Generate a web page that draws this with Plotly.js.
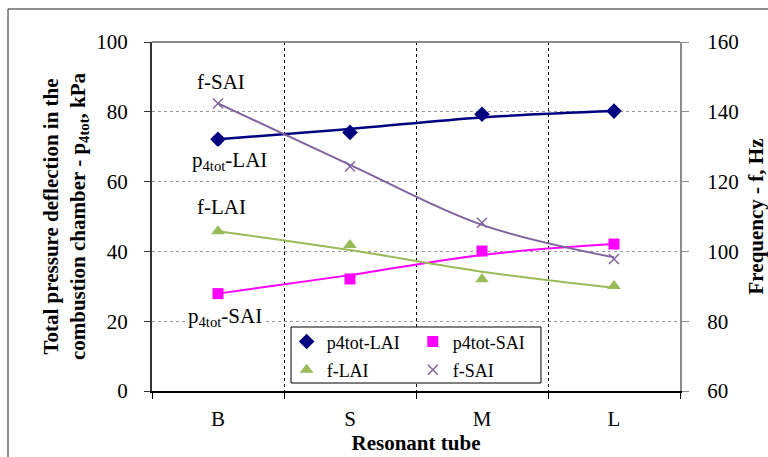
<!DOCTYPE html>
<html>
<head>
<meta charset="utf-8">
<script src="https://cdn.plot.ly/plotly-3.0.1.min.js"></script>
<style>
  html, body { margin: 0; padding: 0; background: #fff; }
  #chart { width: 768px; height: 457px; }
</style>
</head>
<body>
<div id="chart"></div>
<script>
// ---- data ----
var categories = ['B', 'S', 'M', 'L'];
var p4totLAI = [72.1, 74.1, 79.3, 80.2];      // kPa (left axis)
var p4totSAI = [27.9, 32.1, 40.1, 42.1];      // kPa (left axis)
var fLAI = [105.8, 101.8, 92.0, 90.1];        // Hz (right axis)
var fSAI = [142.4, 124.3, 108.2, 97.8];       // Hz (right axis)
// trend lines as drawn in the reference
var p4totLAITrend = [72.1, 75.1, 78.4, 80.2];
var p4totSAITrend = [27.9, 33.2, 39.0, 42.1];
var fLAITrend = [105.8, 100.4, 94.2, 89.6];
var fSAITrend = [142.4, 124.8, 107.6, 98.3];
var leftTicks = [0, 20, 40, 60, 80, 100];
var rightTicks = [60, 80, 100, 120, 140, 160];

var FONT = '"Times New Roman", "Liberation Serif", Times, serif';
var NAVY = '#000080', MAG = '#FF00FF', GREEN = '#9BBB59', PURPLE = '#8064A2';

var traces = [
  {x: categories, y: p4totLAITrend, mode: 'lines', line: {color: NAVY, width: 2.5, shape: 'spline'}, showlegend: false, hoverinfo: 'skip'},
  {x: categories, y: p4totSAITrend, mode: 'lines', line: {color: MAG, width: 2, shape: 'spline'}, showlegend: false, hoverinfo: 'skip'},
  {x: categories, y: fLAITrend, yaxis: 'y2', mode: 'lines', line: {color: GREEN, width: 2, shape: 'spline'}, showlegend: false, hoverinfo: 'skip'},
  {x: categories, y: fSAITrend, yaxis: 'y2', mode: 'lines', line: {color: PURPLE, width: 2, shape: 'spline'}, showlegend: false, hoverinfo: 'skip'},
  {x: categories, y: p4totLAI, name: 'p4tot-LAI', mode: 'markers', legend: 'legend',
   marker: {symbol: 'diamond', size: 12, color: NAVY}},
  {x: categories, y: p4totSAI, name: 'p4tot-SAI', mode: 'markers', legend: 'legend2',
   marker: {symbol: 'square', size: 11, color: MAG}},
  {x: categories, y: fLAI, name: 'f-LAI', yaxis: 'y2', mode: 'markers', legend: 'legend3',
   marker: {symbol: 'triangle-up', size: 12, color: GREEN}},
  {x: categories, y: fSAI, name: 'f-SAI', yaxis: 'y2', mode: 'markers', legend: 'legend4',
   marker: {symbol: 'x-thin', size: 10, color: PURPLE, line: {color: PURPLE, width: 1.5}}}
];

function leg(x, y) {
  return {x: x, y: y, xanchor: 'left', yanchor: 'middle', bgcolor: 'rgba(0,0,0,0)',
          borderwidth: 0, font: {family: FONT, size: 18, color: '#000'}};
}

var layout = {
  width: 768, height: 457,
  margin: {l: 152, r: 88, t: 42, b: 66, pad: 0},
  paper_bgcolor: '#fff', plot_bgcolor: '#fff',
  font: {family: FONT, color: '#000'},
  showlegend: true,
  legend: leg(0.255, 0.141),
  legend2: leg(0.494, 0.141),
  legend3: leg(0.255, 0.060),
  legend4: leg(0.494, 0.060),
  xaxis: {
    type: 'category', range: [-0.5, 3.5], tickson: 'boundaries',
    ticks: 'outside', ticklen: 6, tickcolor: '#000', tickwidth: 1,
    showline: true, linecolor: '#000', linewidth: 2,
    showgrid: true, gridcolor: '#000', gridwidth: 1, griddash: 'dot',
    tickfont: {family: FONT, size: 21, color: '#000'}, ticklabelstandoff: 8,
    title: {text: '<b>Resonant tube</b>', font: {family: FONT, size: 21, color: '#000'}, standoff: 3},
    fixedrange: true
  },
  yaxis: {
    range: [0, 100], tickvals: leftTicks, ticktext: leftTicks.map(String),
    ticks: 'outside', ticklen: 6, tickcolor: '#333', tickwidth: 1,
    showline: true, linecolor: '#333', linewidth: 2,
    showgrid: true, gridcolor: '#999', gridwidth: 1, griddash: '3px,3px',
    zeroline: false,
    tickfont: {family: FONT, size: 21, color: '#000'}, ticklabelstandoff: 12,
    title: {text: '<b>Total pressure deflection in the<br>combustion chamber - p<sub>4tot</sub>, kPa</b>',
            font: {family: FONT, size: 21, color: '#000'}, standoff: 5},
    fixedrange: true
  },
  yaxis2: {
    overlaying: 'y', side: 'right', range: [60, 160],
    tickvals: rightTicks, ticktext: rightTicks.map(String),
    ticks: 'outside', ticklen: 7, tickcolor: '#8c8c8c', tickwidth: 1,
    showline: true, linecolor: '#8c8c8c', linewidth: 2,
    showgrid: false, zeroline: false,
    tickfont: {family: FONT, size: 21, color: '#000'}, ticklabelstandoff: 14,
    title: {text: '<b>Frequency - f, Hz</b>', font: {family: FONT, size: 21, color: '#000'}, standoff: 21},
    fixedrange: true
  },
  shapes: [
    {type: 'line', xref: 'paper', yref: 'paper', x0: 0, x1: 1, y0: 1, y1: 1,
     line: {color: '#8c8c8c', width: 2}},
    {type: 'rect', xref: 'paper', yref: 'paper', x0: 0.2633, x1: 0.7367, y0: 0.0229, y1: 0.1834,
     fillcolor: '#fff', line: {color: '#000', width: 1}, layer: 'above'},
    {type: 'line', xref: 'paper', yref: 'paper', x0: -0.2727, x1: -0.2727, y0: 1.0946, y1: -0.3,
     line: {color: '#222', width: 1}},
    {type: 'line', xref: 'paper', yref: 'paper', x0: -0.2727, x1: 1.3, y0: 1.0946, y1: 1.0946,
     line: {color: '#222', width: 1}}
  ],
  annotations: [
    {text: 'f-SAI', xref: 'x', yref: 'y', x: 0.02, y: 88.6, showarrow: false,
     font: {family: FONT, size: 21, color: '#000'}},
    {text: 'p<sub>4tot</sub>-LAI', xref: 'x', yref: 'y', x: 0.09, y: 66.0, showarrow: false,
     bgcolor: '#fff', font: {family: FONT, size: 21, color: '#000'}},
    {text: 'f-LAI', xref: 'x', yref: 'y', x: 0.03, y: 52.7, showarrow: false,
     font: {family: FONT, size: 21, color: '#000'}},
    {text: 'p<sub>4tot</sub>-SAI', xref: 'x', yref: 'y', x: 0.05, y: 21.3, showarrow: false,
     bgcolor: '#fff', font: {family: FONT, size: 21, color: '#000'}}
  ]
};

Plotly.newPlot('chart', traces, layout, {displayModeBar: false, staticPlot: true});
</script>
</body>
</html>
